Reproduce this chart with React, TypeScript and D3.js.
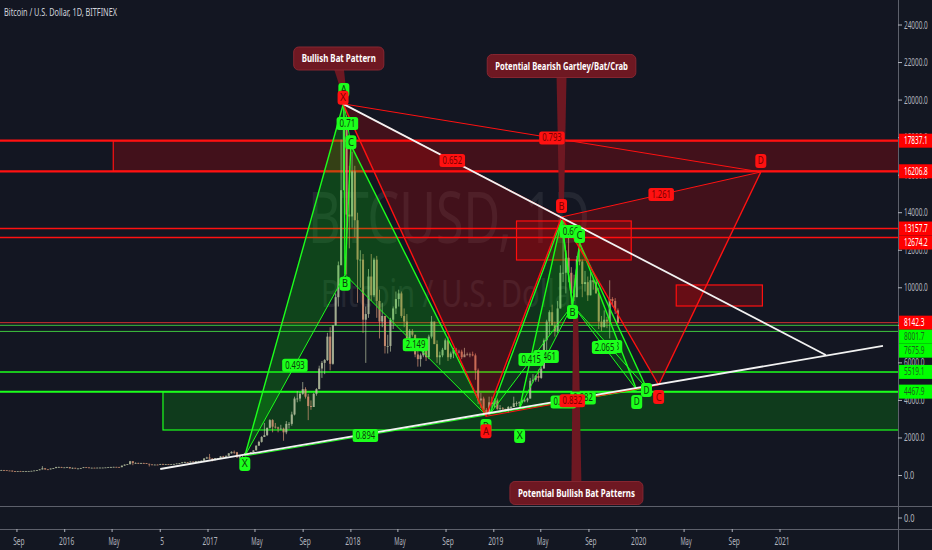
import * as d3 from 'd3'
import React from 'react'

const W = 932
const H = 550
const PANE_R = 898
const PANE_B = 506
const AXIS_T = 529

const BG = '#131722'
const RED = '#ff1111'
const GREEN = '#1cff1c'
const AXIS_TXT = '#b2b5be'

// weekly candles [high, low, close], first week starts 2015-07-20
const candleStart = '2015-07-20'
const firstOpen = 275
const weeks2015 = [
  [300, 270, 290], [297, 280, 281], [285, 260, 264], [270, 258, 260], [265, 198, 230], [235, 200, 229],
  [240, 225, 235], [245, 230, 231], [235, 225, 232], [240, 228, 235], [242, 235, 240], [250, 237, 248],
  [270, 247, 266], [290, 265, 285], [335, 280, 325], [500, 320, 385], [390, 300, 330], [335, 315, 325],
  [375, 320, 370], [400, 350, 395], [465, 390, 450], [470, 430, 455], [460, 415, 423], [440, 420, 432],
]
const weeks2016 = [
  [460, 425, 448], [455, 365, 385], [420, 350, 410], [410, 365, 370],
  [395, 365, 375], [405, 370, 400], [445, 395, 440], [445, 415, 430], [440, 405, 410],
  [420, 405, 414], [420, 405, 410], [425, 410, 418], [425, 410, 420],
  [425, 415, 421], [432, 420, 430], [455, 428, 450], [465, 440, 450],
  [465, 445, 460], [460, 445, 455], [460, 440, 445], [530, 440, 525], [590, 520, 580],
  [610, 570, 600], [780, 600, 760], [770, 550, 670], [700, 620, 670],
  [680, 610, 650], [680, 640, 665], [680, 650, 655], [660, 615, 625],
  [625, 480, 590], [600, 570, 575], [590, 565, 580], [590, 570, 575], [620, 570, 610],
  [630, 600, 605], [615, 600, 610], [610, 590, 600], [615, 595, 612],
  [620, 605, 617], [645, 610, 640], [660, 630, 655], [720, 650, 700], [740, 680, 710],
  [720, 690, 705], [750, 700, 740], [750, 720, 735], [775, 730, 765],
  [780, 755, 770], [800, 765, 790], [930, 790, 905], [1000, 890, 960],
]
const weeks2017 = [
  [1150, 850, 905], [920, 750, 820], [930, 810, 920], [930, 880, 920], [1040, 920, 1020],
  [1050, 940, 1000], [1060, 995, 1050], [1200, 1050, 1180], [1290, 1170, 1260],
  [1330, 1150, 1240], [1260, 940, 970], [1080, 890, 1050], [1100, 950, 1080],
  [1220, 1080, 1200], [1220, 1160, 1190], [1250, 1180, 1240], [1360, 1240, 1340],
  [1600, 1340, 1590], [1850, 1580, 1790], [2100, 1750, 2050], [2800, 2050, 2150], [2550, 2100, 2540],
  [3000, 2500, 2950], [3000, 2300, 2600], [2800, 2500, 2560], [2600, 2300, 2500],
  [2700, 2450, 2500], [2550, 1850, 2300], [2900, 2200, 2750], [2850, 2500, 2750], [3400, 2650, 3250],
  [4200, 3200, 4100], [4500, 3900, 4100], [4450, 3950, 4350], [4980, 4300, 4600],
  [4700, 4100, 4200], [4350, 2950, 3700], [4000, 3500, 3650], [4400, 3650, 4350],
  [4650, 4250, 4600], [5850, 4600, 5700], [6100, 5200, 6000], [6200, 5400, 6150], [7600, 6100, 7400],
  [7900, 5600, 5950], [8000, 5900, 8000], [9700, 8000, 9500], [11400, 9000, 11200],
  [17900, 11400, 15200], [19800, 15200, 19100], [19200, 10700, 13900], [16500, 12100, 13800],
]
const weeks2018 = [
  [17250, 13200, 16200], [16500, 12700, 13600], [14000, 9200, 11500], [12000, 10000, 11500], [11800, 7600, 8300],
  [9000, 6000, 8600], [11000, 8400, 10600], [11800, 9300, 9600], [11600, 9500, 11500],
  [11700, 8400, 9300], [9900, 7300, 8200], [9200, 7900, 8500], [8500, 6500, 6900],
  [7500, 6500, 6900], [8400, 6600, 8300], [9000, 7800, 8900], [9800, 8600, 9400], [9900, 9000, 9700],
  [9800, 8400, 8500], [8900, 7900, 8200], [8600, 7200, 7300], [7800, 7100, 7700],
  [7800, 7400, 7500], [7500, 6300, 6450], [6900, 5800, 6200], [6500, 5800, 6400],
  [6900, 6300, 6700], [6800, 6100, 6300], [7500, 6200, 7400], [8500, 7300, 8200], [8200, 7000, 7000],
  [7200, 6000, 6300], [6600, 5900, 6400], [6800, 6300, 6700], [7300, 6700, 7200],
  [7400, 6100, 6300], [6600, 6200, 6500], [6800, 6250, 6700], [6800, 6400, 6600],
  [6700, 6500, 6600], [6700, 6200, 6300], [6800, 6350, 6450], [6550, 6400, 6450], [6550, 6300, 6450],
  [6600, 6350, 6400], [6500, 5100, 5600], [5700, 3800, 4000], [4400, 3600, 4100],
  [4200, 3300, 3500], [3600, 3200, 3250], [4200, 3250, 3900], [4200, 3600, 3800],
]
const weeks2019 = [
  [4100, 3600, 4000],
  [4100, 3500, 3550], [3750, 3500, 3580], [3650, 3450, 3550], [3550, 3400, 3450],
  [3700, 3350, 3650], [3700, 3550, 3650], [4200, 3650, 3850], [3950, 3700, 3850],
  [3950, 3700, 3900], [4050, 3850, 4000], [4100, 3900, 4000], [4150, 3900, 4100],
  [5200, 4100, 5050], [5400, 4950, 5100], [5350, 5000, 5300], [5650, 5000, 5200], [5800, 5150, 5700],
  [7300, 5700, 7200], [8300, 6600, 8200], [8800, 7500, 8700], [9100, 8000, 8000],
  [8200, 7400, 7700], [9300, 7600, 8900], [11200, 8900, 10800], [13800, 10300, 10800],
  [12000, 9700, 11600], [13200, 10300, 10800], [11100, 9100, 9700], [10700, 9300, 9500], [11700, 9500, 11500],
  [12300, 11200, 11400], [11500, 9500, 10200], [10900, 9800, 10300], [10600, 9300, 9600],
  [10900, 9600, 10400], [10500, 9900, 10300], [10400, 9700, 9700], [10000, 7800, 8200], [8500, 7700, 7900],
  [8800, 7900, 8300], [8450, 7850, 8200], [10400, 7300, 9400], [9500, 9000, 9300],
  [9450, 8600, 8800], [8900, 8100, 8142.3],
]
const candles = [...weeks2015, ...weeks2016, ...weeks2017, ...weeks2018, ...weeks2019]

const priceTicks = [0, 2000, 4000, 6000, 8000, 10000, 12000, 14000, 16000, 18000, 20000, 22000, 24000]
const timeTicks: [string, string][] = [
  ['2015-09-01', 'Sep'], ['2016-01-01', '2016'], ['2016-05-01', 'May'], ['2016-09-01', '5'],
  ['2017-01-01', '2017'], ['2017-05-01', 'May'], ['2017-09-01', 'Sep'], ['2018-01-01', '2018'],
  ['2018-05-01', 'May'], ['2018-09-01', 'Sep'], ['2019-01-01', '2019'], ['2019-05-01', 'May'],
  ['2019-09-01', 'Sep'], ['2020-01-01', '2020'], ['2020-05-01', 'May'], ['2020-09-01', 'Sep'],
  ['2021-01-01', '2021'],
]

// horizontal levels
const redZoneLevels = [17837.1, 16206.8]
const redLevels = [13157.7, 12674.2]
const lastPrice = 8142.3
const greenThinLevels = [8001.7, 7675.9]
const greenLevels = [5519.1, 4467.9]

// rectangles: [from, to, low, high]
const redZones: [string, string, number, number][] = [
  ['2016-05-04', '2022-06-01', 16206.8, 17837.1],
  ['2019-02-28', '2019-12-18', 11480, 13560],
  ['2020-04-11', '2020-11-17', 9030, 10150],
]
const greenZones: [string, string, number, number][] = [
  ['2016-09-08', '2022-06-01', 2424, 4467.9],
]

// white trend lines
const trendLines: [string, number][][] = [
  [['2016-09-01', 346], ['2021-09-21', 6900]],
  [['2017-12-12', 19800], ['2021-04-28', 6420]],
]

type Pt = [string, number]
type Pattern = { X: Pt; A: Pt; B: Pt; C: Pt; D: Pt; XB: string; AC: string; BD: string; XD: string }

const bullBat: Pattern = {
  X: ['2017-04-05', 1040], A: ['2017-12-14', 19900], B: ['2017-12-17', 10700],
  C: ['2018-01-01', 17600], D: ['2018-12-12', 3220],
  XB: '0.493', AC: '0.71', BD: '2.149', XD: '0.894',
}
const bearPattern: Pattern = {
  X: ['2017-12-12', 19800], A: ['2018-12-12', 3150], B: ['2019-06-23', 13770],
  C: ['2020-02-26', 4820], D: ['2020-11-13', 16170],
  XB: '0.652', AC: '0.832', BD: '1.261', XD: '0.793',
}
const bullBat2: Pattern = {
  X: ['2018-12-22', 3280], A: ['2019-06-23', 13600], B: ['2019-07-21', 9080],
  C: ['2019-08-08', 12390], D: ['2020-01-01', 4560],
  XB: '0.415', AC: '0.66', BD: '2.065', XD: '0.887',
}
const bullBat3: Pattern = {
  X: ['2019-03-08', 3600], A: ['2019-06-23', 13600], B: ['2019-07-21', 9080],
  C: ['2019-08-08', 12390], D: ['2020-01-26', 4660],
  XB: '0.461', AC: '', BD: '2.378', XD: '0.882',
}

const callouts: { text: string; box: Pt; tip: Pt }[] = [
  { text: 'Bullish Bat Pattern', box: ['2017-12-01', 22215], tip: ['2017-12-14', 20430] },
  { text: 'Potential Bearish Gartley/Bat/Crab', box: ['2019-06-23', 21816], tip: ['2019-06-23', 14517] },
  { text: 'Potential Bullish Bat Patterns', box: ['2019-07-31', -932], tip: ['2019-07-29', 8710] },
]

const parse = d3.utcParse('%Y-%m-%d')
const x = d3.scaleUtc().domain([parse('2017-01-01')!, parse('2021-01-01')!]).range([208, 780])
const y = d3.scaleLinear().domain([0, 24000]).range([475.5, 25])
const P = (p: Pt): [number, number] => [x(parse(p[0])!), y(p[1])]
const mid = (a: [number, number], b: [number, number]): [number, number] => [(a[0] + b[0]) / 2, (a[1] + b[1]) / 2]

function CText({ x: tx, y: ty, text, size, fill, width, weight, anchor }: any) {
  return (
    <text x={tx} y={ty} fontSize={size} fill={fill} fontWeight={weight || 'normal'}
      textAnchor={anchor || 'middle'} textLength={width} lengthAdjust="spacingAndGlyphs"
      fontFamily="'Noto Sans', sans-serif">{text}</text>
  )
}

function Tag({ at, text, bg, fg }: { at: [number, number]; text: string; bg: string; fg: string }) {
  if (!text) return null
  const w = text.length * 3.9 + 6
  return (
    <g>
      <rect x={at[0] - w / 2} y={at[1] - 6.5} width={w} height={13} rx={2.5} fill={bg} />
      <CText x={at[0]} y={at[1] + 3.5} text={text} size={10} fill={fg} width={text.length * 3.9} />
    </g>
  )
}

function Harmonic({ pat, color, fill }: { pat: Pattern; color: string; fill: string }) {
  const X = P(pat.X), A = P(pat.A), B = P(pat.B), C = P(pat.C), D = P(pat.D)
  const tri = (a: number[], b: number[], c: number[]) => `M${a}L${b}L${c}Z`
  const seg = (a: number[], b: number[], w: number, k: string) => (
    <line key={k} x1={a[0]} y1={a[1]} x2={b[0]} y2={b[1]} stroke={color} strokeWidth={w} />
  )
  return (
    <g>
      <path d={tri(X, A, B)} fill={fill} />
      <path d={tri(B, C, D)} fill={fill} />
      {seg(X, B, 1, 'xb')}
      {seg(A, C, 1, 'ac')}
      {seg(B, D, 1, 'bd')}
      {seg(X, D, 1, 'xd')}
      {seg(X, A, 1.4, 'xa')}
      {seg(A, B, 1.4, 'ab')}
      {seg(B, C, 1.4, 'bc')}
      {seg(C, D, 1.4, 'cd')}
    </g>
  )
}

function RatioTags({ pat, bg, fg }: { pat: Pattern; bg: string; fg: string }) {
  const X = P(pat.X), A = P(pat.A), B = P(pat.B), C = P(pat.C), D = P(pat.D)
  return (
    <g>
      <Tag at={mid(X, B)} text={pat.XB} bg={bg} fg={fg} />
      <Tag at={mid(A, C)} text={pat.AC} bg={bg} fg={fg} />
      <Tag at={mid(B, D)} text={pat.BD} bg={bg} fg={fg} />
      <Tag at={mid(X, D)} text={pat.XD} bg={bg} fg={fg} />
    </g>
  )
}

function PointTags({ pat, offsets, bg, fg }: { pat: Pattern; offsets: Record<string, number>; bg: string; fg: string }) {
  return (
    <g>
      {Object.keys(offsets).map((k) => {
        const p = P((pat as any)[k])
        const cy = p[1] + offsets[k]
        return (
          <g key={k}>
            <rect x={p[0] - 5.5} y={cy - 7} width={11} height={14} rx={3} fill={bg} />
            <CText x={p[0]} y={cy + 3.5} text={k} size={10} fill={fg} width={6} />
          </g>
        )
      })}
    </g>
  )
}

function Callout({ c }: { c: { text: string; box: Pt; tip: Pt } }) {
  const [bx, by] = P(c.box)
  const [tx, ty] = P(c.tip)
  const tw = c.text.length * 3.9
  const w = tw + 16
  const h = 23
  const dir = ty > by ? 1 : -1
  const ey = by + (dir * h) / 2 - dir * 2
  return (
    <g>
      <path d={`M${bx - 5},${ey}L${bx + 5},${ey}L${tx + 2.5},${ty}L${tx - 2.5},${ty}Z`} fill="#6e1822" />
      <rect x={bx - w / 2} y={by - h / 2} width={w} height={h} rx={5} fill="#6e1822" stroke="#862631" strokeWidth={1} />
      <CText x={bx} y={by + 3.8} text={c.text} size={10.5} fill="#ffffff" width={tw} weight="bold" />
    </g>
  )
}

export default function App() {
  const start = parse(candleStart)!
  const candleW = x(d3.utcDay.offset(start, 7)) - x(start) - 0.7
  const candleData = candles.map(([h, l, c], i) => {
    const d = d3.utcDay.offset(start, i * 7 + 3)
    const o = i === 0 ? firstOpen : candles[i - 1][2]
    return { cx: x(d), o, h, l, c }
  })

  // price axis tags, stacked so they don't overlap
  const tagList = [
    ...redZoneLevels.map((v) => ({ v, red: true })),
    ...redLevels.map((v) => ({ v, red: true })),
    { v: lastPrice, red: true },
    ...greenThinLevels.map((v) => ({ v, red: false })),
    ...greenLevels.map((v) => ({ v, red: false })),
  ].sort((a, b) => b.v - a.v)
  let lastY = -Infinity
  const tags = tagList.map((t) => {
    let ty = y(t.v)
    if (ty < lastY + 14) ty = lastY + 14
    lastY = ty
    return { ...t, ty }
  })

  const hline = (v: number, color: string, w: number, k: string) => (
    <line key={k} x1={0} x2={PANE_R} y1={y(v)} y2={y(v)} stroke={color} strokeWidth={w} />
  )
  const zoneRect = (z: [string, string, number, number], stroke: string, fill: string, k: string) => {
    const x0 = x(parse(z[0])!)
    const x1 = x(parse(z[1])!)
    return (
      <rect key={k} x={x0} y={y(z[3])} width={x1 - x0} height={y(z[2]) - y(z[3])}
        fill={fill} stroke={stroke} strokeWidth={1.2} />
    )
  }

  return (
    <svg width={W} height={H} style={{ position: 'absolute', left: 0, top: 0, background: BG }}>
      <defs>
        <clipPath id="pane">
          <rect x={0} y={0} width={PANE_R} height={PANE_B} />
        </clipPath>
      </defs>
      <rect width={W} height={H} fill={BG} />

      <g clipPath="url(#pane)">
        {/* watermark */}
        <CText x={449} y={243} text="BTCUSD, 1D" size={72} fill="#ffffff" width={282} />
        <CText x={452} y={307} text="Bitcoin / U.S. Dollar" size={38} fill="#ffffff" width={262} />
        <rect width={PANE_R} height={PANE_B} fill={BG} opacity={0.93} />

        {redZones.map((z, i) => zoneRect(z, RED, 'rgba(255,0,0,0.2)', 'rz' + i))}
        {greenZones.map((z, i) => zoneRect(z, GREEN, 'rgba(0,255,0,0.16)', 'gz' + i))}

        {redZoneLevels.map((v, i) => hline(v, RED, 2.2, 'rzl' + i))}
        {redLevels.map((v, i) => hline(v, RED, 1.5, 'rl' + i))}
        {hline(lastPrice, '#d0302f', 1, 'lp')}
        {greenThinLevels.map((v, i) => hline(v, '#3ec43e', 1, 'gtl' + i))}
        {greenLevels.map((v, i) => hline(v, GREEN, i === 0 ? 1.5 : 2, 'gl' + i))}

        {/* candles */}
        {candleData.map((d, i) => {
          const up = d.c >= d.o
          const col = up ? '#bcc7a4' : '#de9a78'
          const top = y(Math.max(d.o, d.c))
          const bot = y(Math.min(d.o, d.c))
          return (
            <g key={i} opacity={0.85}>
              <line x1={d.cx} x2={d.cx} y1={y(d.h)} y2={y(d.l)} stroke={col} strokeWidth={0.8} />
              <rect x={d.cx - candleW / 2} y={top} width={candleW} height={Math.max(0.8, bot - top)} fill={col} />
            </g>
          )
        })}

        <Harmonic pat={bullBat} color={GREEN} fill="rgba(0,255,0,0.2)" />
        <Harmonic pat={bullBat3} color={GREEN} fill="rgba(0,255,0,0.12)" />
        <Harmonic pat={bullBat2} color={GREEN} fill="rgba(0,255,0,0.12)" />
        <Harmonic pat={bearPattern} color={RED} fill="rgba(255,0,0,0.2)" />

        {trendLines.map((l, i) => {
          const a = P(l[0])
          const b = P(l[1])
          return <line key={'t' + i} x1={a[0]} y1={a[1]} x2={b[0]} y2={b[1]} stroke="#f2f2f2" strokeWidth={1.8} />
        })}

        {callouts.map((c, i) => <Callout key={'c' + i} c={c} />)}

        <RatioTags pat={bullBat} bg={GREEN} fg="#0b3d0b" />
        <PointTags pat={bullBat} offsets={{ X: 8, A: -12, B: 9, C: -3, D: 11 }} bg={GREEN} fg="#0b3d0b" />
        <RatioTags pat={bullBat3} bg={GREEN} fg="#0b3d0b" />
        <RatioTags pat={bullBat2} bg={GREEN} fg="#0b3d0b" />
        <PointTags pat={bullBat2} offsets={{ B: 7, C: -7, D: 12 }} bg={GREEN} fg="#0b3d0b" />
        <PointTags pat={bullBat3} offsets={{ X: 28, D: 2 }} bg={GREEN} fg="#0b3d0b" />
        <RatioTags pat={bearPattern} bg={RED} fg="#7a0000" />
        <PointTags pat={bearPattern} offsets={{ X: -6, A: 15, B: -11, C: 12, D: -11 }} bg={RED} fg="#7a0000" />
      </g>

      {/* frame lines */}
      <line x1={0} x2={W} y1={PANE_B + 0.5} y2={PANE_B + 0.5} stroke="#5d606b" />
      <line x1={0} x2={W} y1={AXIS_T + 0.5} y2={AXIS_T + 0.5} stroke="#5d606b" />
      <line x1={PANE_R + 0.5} x2={PANE_R + 0.5} y1={0} y2={H} stroke="#5d606b" />

      {/* title */}
      <CText x={4} y={16} text="Bitcoin / U.S. Dollar, 1D, BITFINEX" size={11} fill="#d1d4dc" width={113} anchor="start" />

      {/* price axis */}
      {priceTicks.map((v) => (
        <g key={'p' + v}>
          <line x1={PANE_R} x2={PANE_R + 4} y1={y(v)} y2={y(v)} stroke={AXIS_TXT} />
          <CText x={904} y={y(v) + 3.5} text={v.toFixed(1)} size={10} fill={AXIS_TXT} width={v.toFixed(1).length * 3.4} anchor="start" />
        </g>
      ))}
      <line x1={PANE_R} x2={PANE_R + 4} y1={518} y2={518} stroke={AXIS_TXT} />
      <CText x={904} y={521.5} text="0.0" size={10} fill={AXIS_TXT} width={10.5} anchor="start" />

      {tags.map((t, i) => {
        const s = t.v.toFixed(1)
        return (
          <g key={'tag' + i}>
            <rect x={PANE_R + 1} y={t.ty - 7} width={W - PANE_R - 1} height={14} fill={t.red ? '#ff0000' : '#00ff00'} />
            <CText x={904} y={t.ty + 3.5} text={s} size={10} fill={t.red ? '#ffffff' : '#1f5f1f'} width={s.length * 3.4} anchor="start" />
          </g>
        )
      })}

      {/* time axis */}
      {timeTicks.map(([d, lab]) => {
        const tx = x(parse(d)!)
        return (
          <g key={'t' + d}>
            <line x1={tx} x2={tx} y1={AXIS_T} y2={AXIS_T + 3} stroke={AXIS_TXT} />
            <CText x={tx + 2} y={545} text={lab} size={10} fill={AXIS_TXT} width={lab.length * 3.8} />
          </g>
        )
      })}
    </svg>
  )
}
